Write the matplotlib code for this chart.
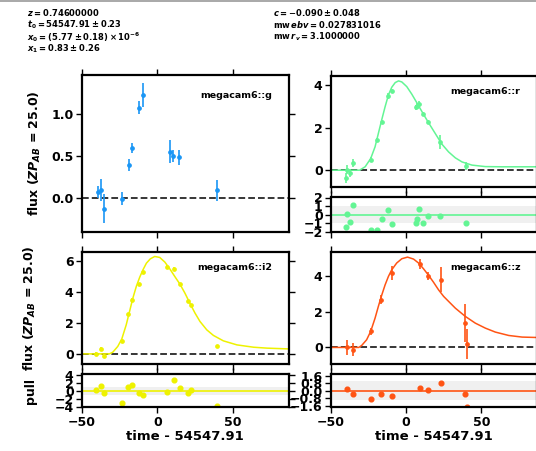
import matplotlib
matplotlib.use('Agg')
import matplotlib.pyplot as plt
from matplotlib.lines import Line2D

plt.rcParams['font.family'] = 'DejaVu Sans'
plt.rcParams['font.weight'] = 'bold'
plt.rcParams['axes.labelweight'] = 'bold'
plt.rcParams['mathtext.fontset'] = 'custom'
plt.rcParams['mathtext.rm'] = 'DejaVu Sans:bold'
plt.rcParams['mathtext.it'] = 'DejaVu Sans:italic:bold'
plt.rcParams['mathtext.bf'] = 'DejaVu Sans:bold'

# fit results
params_left = [r'$z = 0.74600000$',
               r'$t_0 = 54547.91 \pm 0.23$',
               r'$x_0 = (5.77 \pm 0.18) \times 10^{-6}$',
               r'$x_1 = 0.83 \pm 0.26$']
params_right = [r'$c = -0.090 \pm 0.048$',
                r'mw$\,ebv = 0.027831016$',
                r'mw$\,r_v = 3.1000000$']

# megacam6::g (no model / pulls)
g_time = [-39.6, -37.1, -35.6, -23.6, -19.1, -16.7, -12.5, -9.3, 8.6, 10.2, 14.4, 39.3]
g_flux = [0.07, 0.09, -0.13, -0.01, 0.39, 0.595, 1.078, 1.233, 0.551, 0.496, 0.484, 0.092]
g_err = [0.07, 0.13, 0.17, 0.075, 0.07, 0.06, 0.076, 0.146, 0.135, 0.07, 0.09, 0.125]

# megacam6::r
r_time = [-40.3, -39.1, -37.1, -35.3, -23.3, -19.1, -16.4, -12.4, -9.3,
          6.7, 7.3, 8.7, 11.0, 14.7, 22.7, 39.6]
r_flux = [-0.36, 0.03, -0.13, 0.34, 0.5, 1.41, 2.28, 3.49, 3.73,
          2.95, 3.02, 3.1, 2.63, 2.25, 1.34, 0.19]
r_err = [0.22, 0.2, 0.18, 0.21, 0.1, 0.1, 0.1, 0.12, 0.1,
         0.12, 0.12, 0.15, 0.1, 0.1, 0.33, 0.2]
r_pull = [-1.4, 0.05, -0.8, 1.1, -1.8, -1.8, -0.5, 0.55, -1.05,
          -1.0, -0.5, 0.7, -0.95, -0.1, -0.2, -1.0]
r_model_time = [-50, -31.0, -27.3, -23.6, -20.7, -18.5, -16.3, -14.0, -11.8, -9.6,
                -7.3, -5.1, -2.9, 0.4, 3.7, 7.1, 11.5, 14.9, 19.3, 23.7,
                28.2, 32.7, 37.1, 43.7, 52.6, 63.7, 90]
r_model_flux = [0.0, 0.0, 0.16, 0.55, 1.1, 1.73, 2.36, 2.99, 3.54, 3.9,
                4.12, 4.2, 4.15, 3.93, 3.58, 3.17, 2.63, 2.23, 1.73, 1.23,
                0.86, 0.58, 0.39, 0.24, 0.17, 0.16, 0.16]

# megacam6::i2
i_time = [-40.7, -37.3, -35.6, -23.6, -19.3, -16.7, -12.5, -9.3, 6.4, 10.7,
          14.7, 20.4, 22.2, 39.3]
i_flux = [0.02, 0.32, -0.13, 0.86, 2.56, 3.48, 4.5, 5.25, 5.6, 5.48,
          4.5, 3.38, 3.12, 0.48]
i_err = [0.1, 0.12, 0.12, 0.1, 0.1, 0.1, 0.1, 0.12, 0.1, 0.1,
         0.1, 0.1, 0.1, 0.1]
i_pull = [0.17, 1.2, -0.65, -3.0, 0.9, 1.5, -0.5, -1.05, -0.25, 2.8,
          0.6, -0.5, 0.1, -3.8]
i_model_time = [-50, -31.8, -29.6, -26.3, -23.6, -20.7, -18.5, -16.3, -14.0, -11.8,
                -9.6, -7.3, -4.7, -1.8, 1.5, 4.9, 8.2, 11.5, 14.9, 18.2,
                21.5, 24.9, 28.2, 32.7, 37.1, 43.7, 52.7, 63.7, 72.7, 90]
i_model_flux = [0.0, 0.0, 0.11, 0.48, 0.97, 1.87, 2.73, 3.59, 4.35, 4.93,
                5.42, 5.85, 6.13, 6.28, 6.22, 5.92, 5.48, 4.99, 4.5, 3.92,
                3.27, 2.63, 2.09, 1.55, 1.19, 0.84, 0.58, 0.43, 0.37, 0.31]

# megacam6::z
z_time = [-39.1, -35.6, -23.6, -16.7, -9.3, 8.9, 14.7, 22.9, 39.3, 40.4]
z_flux = [0.02, -0.13, 0.9, 2.67, 4.17, 4.67, 4.02, 3.8, 1.36, 0.19]
z_err = [0.42, 0.37, 0.2, 0.25, 0.38, 0.28, 0.22, 0.72, 1.08, 0.84]
z_pull = [0.15, -0.32, -0.87, -0.32, -0.56, 0.25, 0.1, 0.84, -0.32, -1.68]
z_model_time = [-50, -31.5, -29.6, -26.3, -23.6, -20.7, -18.5, -16.3, -14.0, -11.8,
                -9.6, -6.3, -2.9, 0.9, 4.9, 8.2, 11.5, 14.9, 18.2, 21.5,
                24.9, 28.2, 32.7, 39.3, 46.0, 52.7, 59.3, 68.2, 77.1, 90]
z_model_flux = [0.0, 0.0, 0.11, 0.43, 0.9, 1.64, 2.3, 2.92, 3.51, 3.98,
                4.35, 4.73, 4.97, 5.06, 4.95, 4.73, 4.41, 4.04, 3.65, 3.23,
                2.86, 2.58, 2.2, 1.74, 1.36, 1.08, 0.86, 0.67, 0.58, 0.55]

W, H = 536, 451
fig = plt.figure(figsize=(W / 100, H / 100), dpi=100)


def box(left, top, right, bottom):
    return [left / W, 1 - bottom / H, (right - left) / W, (bottom - top) / H]


def style(ax, show_x):
    ax.set_xlim(-50, 87)
    ax.set_xticks([-50, 0, 50])
    ax.tick_params(direction='out', length=4, width=1, top=True, right=True,
                   labelsize=9, pad=2, labelbottom=show_x)
    for s in ax.spines.values():
        s.set_linewidth(1.6)


def main_panel(ax, band, color, t, f, e, mt=None, mf=None):
    ax.axhline(0, color='k', lw=1.1, ls=(0, (4.4, 2)), zorder=1)
    if mt is not None:
        ax.plot(mt, mf, color=color, lw=1.1, zorder=2)
    ax.errorbar(t, f, yerr=e, fmt='o', ms=2.4, color=color, ecolor=color,
                elinewidth=1.2, capsize=0, zorder=3)
    ax.text(0.92, 0.9, band, transform=ax.transAxes, ha='right', va='top',
            fontsize=6.8, fontweight='bold')


def pull_panel(ax, color, t, p):
    ax.axhspan(-1, 1, color='0.94', lw=0, zorder=0)
    ax.axhline(0, color=color, lw=1.2, zorder=1)
    ax.plot(t, p, 'o', ms=3.4, color=color, ls='', zorder=2)


# top left: g
ax = fig.add_axes(box(82, 75, 288.7, 232))
main_panel(ax, 'megacam6::g', '#1a96f5', g_time, g_flux, g_err)
ax.set_ylim(-0.41, 1.47)
ax.set_yticks([0.0, 0.5, 1.0])
style(ax, False)

# top right: r
ax = fig.add_axes(box(331, 76, 537, 187))
main_panel(ax, 'megacam6::r', '#63f594', r_time, r_flux, r_err, r_model_time, r_model_flux)
ax.set_ylim(-0.79, 4.43)
ax.set_yticks([0, 2, 4])
style(ax, False)
ax = fig.add_axes(box(331, 197.5, 537, 232))
pull_panel(ax, '#63f594', r_time, r_pull)
ax.set_ylim(-2.0, 2.0)
ax.set_yticks([-2, -1, 0, 1, 2])
style(ax, False)

# bottom left: i2
ax = fig.add_axes(box(82, 252.3, 288.7, 363.5))
main_panel(ax, 'megacam6::i2', '#eef200', i_time, i_flux, i_err, i_model_time, i_model_flux)
ax.set_ylim(-0.62, 6.55)
ax.set_yticks([0, 2, 4, 6])
style(ax, False)
ax = fig.add_axes(box(82, 374.3, 288.7, 407.3))
pull_panel(ax, '#eef200', i_time, i_pull)
ax.set_ylim(-4.15, 4.1)
ax.set_yticks([-4, -2, 0, 2, 4])
style(ax, True)
ax.set_xlabel('time - 54547.91', fontsize=9.5, labelpad=1)

# bottom right: z
ax = fig.add_axes(box(331, 252.3, 537, 363.5))
main_panel(ax, 'megacam6::z', '#ff5414', z_time, z_flux, z_err, z_model_time, z_model_flux)
ax.set_ylim(-0.9, 5.33)
ax.set_yticks([0, 2, 4])
style(ax, False)
ax = fig.add_axes(box(331, 374.3, 537, 407.3))
pull_panel(ax, '#ff5414', z_time, z_pull)
ax.set_ylim(-1.75, 1.73)
ax.set_yticks([-1.6, -0.8, 0.0, 0.8, 1.6])
style(ax, True)
ax.set_xlabel('time - 54547.91', fontsize=9.5, labelpad=1)

# y labels
ylab = r'flux ($ZP_{AB}$ = 25.0)'
fig.text(35 / W, 1 - 153.5 / H, ylab, rotation=90, ha='center', va='center', fontsize=9)
fig.text(30 / W, 1 - 308 / H, ylab, rotation=90, ha='center', va='center', fontsize=9)
fig.text(30 / W, 1 - 391 / H, 'pull', rotation=90, ha='center', va='center', fontsize=9)

# parameter block
for i, s in enumerate(params_left):
    fig.text(27 / W, 1 - (12.3 + 12.3 * i) / H, s, ha='left', va='center', fontsize=6)
for i, s in enumerate(params_right):
    fig.text(273 / W, 1 - (12.3 + 12 * i) / H, s, ha='left', va='center', fontsize=6)

fig.add_artist(Line2D([0, 1], [1 - 0.8 / H, 1 - 0.8 / H], transform=fig.transFigure,
                      color='0.6', lw=1.2))

fig.savefig('out.png', dpi=100)
